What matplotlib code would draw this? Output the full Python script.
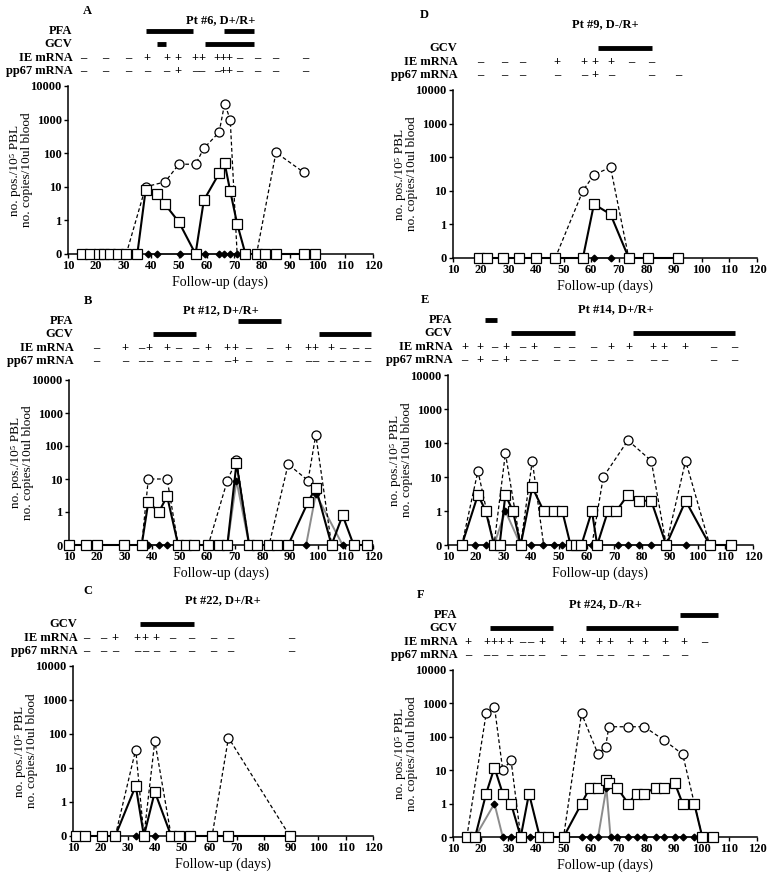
import numpy as np
import matplotlib
matplotlib.use("Agg")
import matplotlib.pyplot as plt

plt.rcParams["font.family"] = ["Liberation Serif", "DejaVu Serif"]
plt.rcParams["font.weight"] = "bold"
plt.rcParams["font.size"] = 9

# ---- Panel A: Pt #6 ----
a_sq_x = [15, 18, 21, 23, 25, 28, 31, 35, 38, 42, 45, 50, 56, 59, 64.5, 66.5, 68.5, 71, 74, 78, 81, 85, 95, 99]
a_sq_y = [0, 0, 0, 0, 0, 0, 0, 0, 8, 6, 3, 0.95, 0, 4, 25, 50, 7.5, 0.9, 0, 0, 0, 0, 0, 0]
a_ci_x = [31, 38, 45, 50, 56, 59, 64.5, 66.5, 68.5, 71, 78, 85, 95]
a_ci_y = [0, 10, 14, 47, 47, 140, 420, 3000, 1000, 0, 0, 105, 27]
a_fi_x = [38.7, 42, 50.4, 59.4, 64.3, 66.4, 68.4, 71]
a_fi_y = [0, 0, 0, 0, 0, 0, 0, 0]
a_ie_x = [15.5, 23.3, 31.8, 38.4, 45.6, 49.8, 55.8, 58.2, 63.7, 65.8, 67.9, 71.7, 78.1, 84.7, 95.5]
a_ie = "---++++++++----"
a_pp_x = a_ie_x
a_pp = "-----+---++----"
a_pfa = [(38.2, 55.2), (66.3, 77.2)]
a_gcv = [(42.2, 45.2), (59.4, 77.2)]

# ---- Panel D: Pt #9 ----
d_sq_x = [19.4, 22.4, 28, 34, 40, 47, 57, 61, 67, 73.6, 80.5, 91.3]
d_sq_y = [0, 0, 0, 0, 0, 0, 0, 4, 2, 0, 0, 0]
d_ci_x = [47, 57, 61, 67, 73.6]
d_ci_y = [0, 10, 30, 50, 0]
d_fi_x = [61, 67]
d_fi_y = [0, 0]
d_ie_x = [20, 28.7, 35, 47.7, 57.3, 61.2, 67.2, 74.5, 81.7]
d_ie = "---++++--"
d_pp_x = [20, 28.7, 35, 47.7, 57.3, 61.2, 67.2, 81.7, 91.6]
d_pp = "-----+---"
d_gcv = [(62.4, 82)]

# ---- Panel B: Pt #12 ----
b_sq_x = [10, 16, 20, 30, 36.3, 38.7, 42.5, 45.5, 49.5, 52.3, 55.3, 60.4, 64.3, 67.3, 70.6,
          75.2, 78.2, 82.4, 85.4, 89.3, 96.5, 99.3, 105, 109, 113, 118]
b_sq_y = [0, 0, 0, 0, 0, 2, 1, 3, 0, 0, 0, 0, 0, 0, 30, 0, 0, 0, 0, 0, 2, 5.5, 0, 0.9, 0, 0]
b_ci_x = [36.3, 38.7, 45.5, 49.5, 60.4, 67.3, 70.6, 75.2, 82.4, 89.3, 96.5, 99.3, 105]
b_ci_y = [0, 10, 10, 0, 0, 9, 38, 0, 0, 28, 9, 220, 0]
b_fi_x = [38.7, 42.5, 45.5, 67.3, 70.6, 75.2, 95.8, 99.3, 109]
b_fi_y = [0, 0, 0, 0, 9, 0, 0, 3.5, 0]
b_ie_x = [20, 30.2, 36.3, 38.9, 45.3, 49.5, 55.5, 60.4, 67.3, 70, 74.8, 82.4, 89.3, 96.5, 99,
          104.6, 109, 113.4, 118]
b_ie = "-+-++--+++--++++---"
b_pp_x = b_ie_x
b_pp = "---------+---------"
b_pfa = [(71.2, 86.6)]
b_gcv = [(40.5, 55.9), (100.5, 119.4)]

# ---- Panel E: Pt #14 ----
e_sq_x = [15, 20.8, 23.6, 26.6, 28.6, 30.7, 33.4, 36.2, 40.4, 44.5, 48.1, 51.2, 54.2, 56.3, 58.1,
          61.9, 63.8, 67.7, 70.7, 74.9, 78.8, 83.3, 88.7, 95.7, 104.4, 112.2]
e_sq_y = [0, 3, 1, 0, 0, 3, 1, 0, 5, 1, 1, 1, 0, 0, 0, 1, 0, 1, 1, 3, 2, 2, 0, 2, 0, 0]
e_ci_x = [15, 20.8, 26.6, 30.7, 36.2, 40.4, 44.5, 61.9, 66, 74.9, 83.3, 88.7, 95.7, 104.4]
e_ci_y = [0, 15, 0, 50, 0, 30, 0, 0, 10, 120, 30, 0, 30, 0]
e_fi_x = [19.6, 23.6, 26.6, 30.7, 36.2, 40, 44.3, 48.2, 51.2, 61.9, 71.3, 74.9, 78.8, 83.3, 88.7, 95.7]
e_fi_y = [0, 0, 0, 1, 0, 0, 0, 0, 0, 0, 0, 0, 0, 0, 0, 0]
e_ie_x = [16, 21.4, 26.8, 30.8, 36.8, 41, 49.1, 54.5, 62.3, 68.6, 75.3, 83.9, 87.9, 95.6, 105.6, 113.1]
e_ie = "++-+-+---+++++--"
e_pp_x = [16, 21.4, 26.8, 30.8, 36.8, 41, 49.1, 54.5, 62.3, 68.6, 75.3, 83.9, 87.9, 105.6, 113.1]
e_pp = "-+-+-----------"
e_pfa = [(23.2, 27.8)]
e_gcv = [(32.6, 55.7), (76.7, 113.4)]

# ---- Panel C: Pt #22 ----
c_sq_x = [11, 14.5, 20.6, 25.5, 33, 36, 40, 46, 49, 53, 61, 67, 89.5]
c_sq_y = [0, 0, 0, 0, 3, 0, 2, 0, 0, 0, 0, 0, 0]
c_ci_x = [25.5, 33, 36, 40, 46, 61, 67, 89.5]
c_ci_y = [0, 35, 0, 62, 0, 0, 78, 0]
c_fi_x = [33, 40]
c_fi_y = [0, 0]
c_ie_x = [15, 21, 25.5, 33.5, 36.5, 40.5, 46.2, 53.5, 61.4, 67.5, 90]
c_ie = "--++++-----"
c_pp_x = c_ie_x
c_pp = "-----------"
c_gcv = [(34.4, 54.4)]

# ---- Panel F: Pt #24 ----
f_sq_x = [15, 18, 22, 25, 28, 31, 34.5, 37.5, 41.4, 44.4, 50, 56.5, 59.5, 62.5, 65.2, 66.4, 69.4,
          73.4, 76.4, 79.2, 83.3, 86.3, 90.3, 93.1, 97.3, 100.2, 104.2]
f_sq_y = [0, 0, 2, 12, 2, 1, 0, 2, 0, 0, 0, 1, 3, 3, 5, 4, 3, 1, 2, 2, 3, 3, 4, 1, 1, 0, 0]
f_ci_x = [15, 22, 25, 28, 31, 34.5, 50, 56.5, 62.5, 65.2, 66.4, 73.4, 79.2, 86.3, 93.1, 100.2]
f_ci_y = [0, 500, 800, 10, 20, 0, 0, 500, 30, 50, 200, 200, 200, 80, 30, 0]
f_fi_x = [18, 25, 28, 31, 37.8, 56.5, 59.5, 62.5, 65.5, 67, 69.4, 73.4, 76.4, 79.2, 83.3, 86.3,
          90.3, 93.1, 97.3]
f_fi_y = [0, 1, 0, 0, 0, 0, 0, 0, 3, 0, 0, 0, 0, 0, 0, 0, 0, 0, 0]
f_ie_x = [15.4, 22.1, 24.9, 27.5, 30.5, 35, 37.8, 42, 49.9, 56.5, 62.8, 66.8, 74, 79.5, 86.7, 93.7, 101]
f_ie = "+++++--+++++++++-"
f_pp_x = [15.4, 22.1, 24.9, 30.5, 35, 37.8, 42, 49.9, 56.5, 62.8, 66.8, 74, 79.5, 86.7, 93.7]
f_pp = "---------------"
f_pfa = [(92.1, 105.8)]
f_gcv = [(23.3, 46.2), (58.1, 91.5)]

y_ticks = [0, 1, 10, 100, 1000, 10000]
x_ticks = list(range(10, 121, 10))


def fwd(v):
    v = np.asarray(v, dtype=float)
    return np.where(v <= 1, v, np.log10(np.maximum(v, 1)) + 1)


def inv(y):
    y = np.asarray(y, dtype=float)
    return np.where(y <= 1, y, 10 ** (np.minimum(y, 10) - 1))


W, H = 770, 877
fig = plt.figure(figsize=(W / 100, H / 100), dpi=100)


def draw_panel(box, letter, title, sq, ci, fi, ie, pp, bars, letter_x, title_x=0.5, extra=0):
    left, top, right, bottom = box
    ax = fig.add_axes([left / W, 1 - bottom / H, (right - left) / W, (bottom - top) / H])
    h = bottom - top
    ax.set_yscale("function", functions=(fwd, inv))
    ax.set_xlim(10, 120)
    ax.set_ylim(0, 10000)

    # pp67 series (filled), grey line
    ax.plot(fi[0], fi[1], color="#8c8c8c", lw=1.4, marker="D", ms=3.4, mfc="k", mec="k",
            clip_on=False, zorder=2)
    # open circles, dashed
    pos = [i for i, v in enumerate(ci[1]) if v > 0]
    ax.plot(ci[0], ci[1], color="k", lw=0.9, ls=(0, (3, 2)), marker="o", ms=6.5, mfc="white",
            mec="k", mew=0.9, markevery=pos, clip_on=False, zorder=3)
    # open squares, solid
    ax.plot(sq[0], sq[1], color="k", lw=1.5, marker="s", ms=6.5, mfc="white", mec="k", mew=0.9,
            clip_on=False, zorder=4)

    ax.set_yticks(y_ticks)
    ax.set_yticklabels([str(t) for t in y_ticks])
    ax.yaxis.set_minor_locator(matplotlib.ticker.NullLocator())
    ax.set_xticks(x_ticks)
    ax.tick_params(direction="out", length=3, width=1, labelsize=9, pad=1.5)
    for s in ["top", "right"]:
        ax.spines[s].set_visible(False)
    for s in ["left", "bottom"]:
        ax.spines[s].set_linewidth(1.1)
    ax.set_xlabel("Follow-up (days)", fontsize=10, labelpad=2)
    ax.set_ylabel("no. pos./10\u2075 PBL\nno. copies/10ul blood", fontsize=9.5, linespacing=1.0)
    ax.yaxis.set_label_coords(-0.115, 0.5)

    tr = ax.get_xaxis_transform()
    fy = lambda px: 1 + (px + extra) / h
    rows = [("pp67 mRNA", 15, pp), ("IE mRNA", 28, ie)]
    for label, off, (xs, signs) in rows:
        ax.text(0.015, fy(off), label, transform=ax.transAxes, ha="right", va="center")
        for x, s in zip(xs, signs):
            ax.text(x, fy(off), "+" if s == "+" else "\u2013", transform=tr, ha="center",
                    va="center", fontsize=9)
    for label, off in [("GCV", 42), ("PFA", 55)]:
        if label not in bars:
            continue
        ax.text(0.015, fy(off), label, transform=ax.transAxes, ha="right", va="center")
        for x0, x1 in bars[label]:
            ax.plot([x0, x1], [fy(off), fy(off)], transform=tr, color="k", lw=3.5,
                    solid_capstyle="butt", clip_on=False)
    ax.text(title_x, fy(66), title, transform=ax.transAxes, ha="center", va="center")
    ax.text(letter_x, fy(75), letter, transform=ax.transAxes, ha="left", va="center")
    return ax


draw_panel((68, 86, 373, 254), "A", "Pt #6, D+/R+", (a_sq_x, a_sq_y), (a_ci_x, a_ci_y),
           (a_fi_x, a_fi_y), (a_ie_x, a_ie), (a_pp_x, a_pp), {"PFA": a_pfa, "GCV": a_gcv}, 0.05)
draw_panel((453, 90, 757, 258), "D", "Pt #9, D-/R+", (d_sq_x, d_sq_y), (d_ci_x, d_ci_y),
           (d_fi_x, d_fi_y), (d_ie_x, d_ie), (d_pp_x, d_pp), {"GCV": d_gcv}, -0.11)
draw_panel((69, 380, 373, 545), "B", "Pt #12, D+/R+", (b_sq_x, b_sq_y), (b_ci_x, b_ci_y),
           (b_fi_x, b_fi_y), (b_ie_x, b_ie), (b_pp_x, b_pp), {"PFA": b_pfa, "GCV": b_gcv}, 0.05,
           extra=4)
draw_panel((448, 375, 753, 545), "E", "Pt #14, D+/R+", (e_sq_x, e_sq_y), (e_ci_x, e_ci_y),
           (e_fi_x, e_fi_y), (e_ie_x, e_ie), (e_pp_x, e_pp), {"PFA": e_pfa, "GCV": e_gcv}, -0.09,
           title_x=0.55)
draw_panel((73, 666, 373, 836), "C", "Pt #22, D+/R+", (c_sq_x, c_sq_y), (c_ci_x, c_ci_y),
           (c_fi_x, c_fi_y), (c_ie_x, c_ie), (c_pp_x, c_pp), {"GCV": c_gcv}, 0.035)
draw_panel((453, 670, 757, 837), "F", "Pt #24, D-/R+", (f_sq_x, f_sq_y), (f_ci_x, f_ci_y),
           (f_fi_x, f_fi_y), (f_ie_x, f_ie), (f_pp_x, f_pp), {"PFA": f_pfa, "GCV": f_gcv}, -0.12)

fig.savefig("out.png", dpi=100)
